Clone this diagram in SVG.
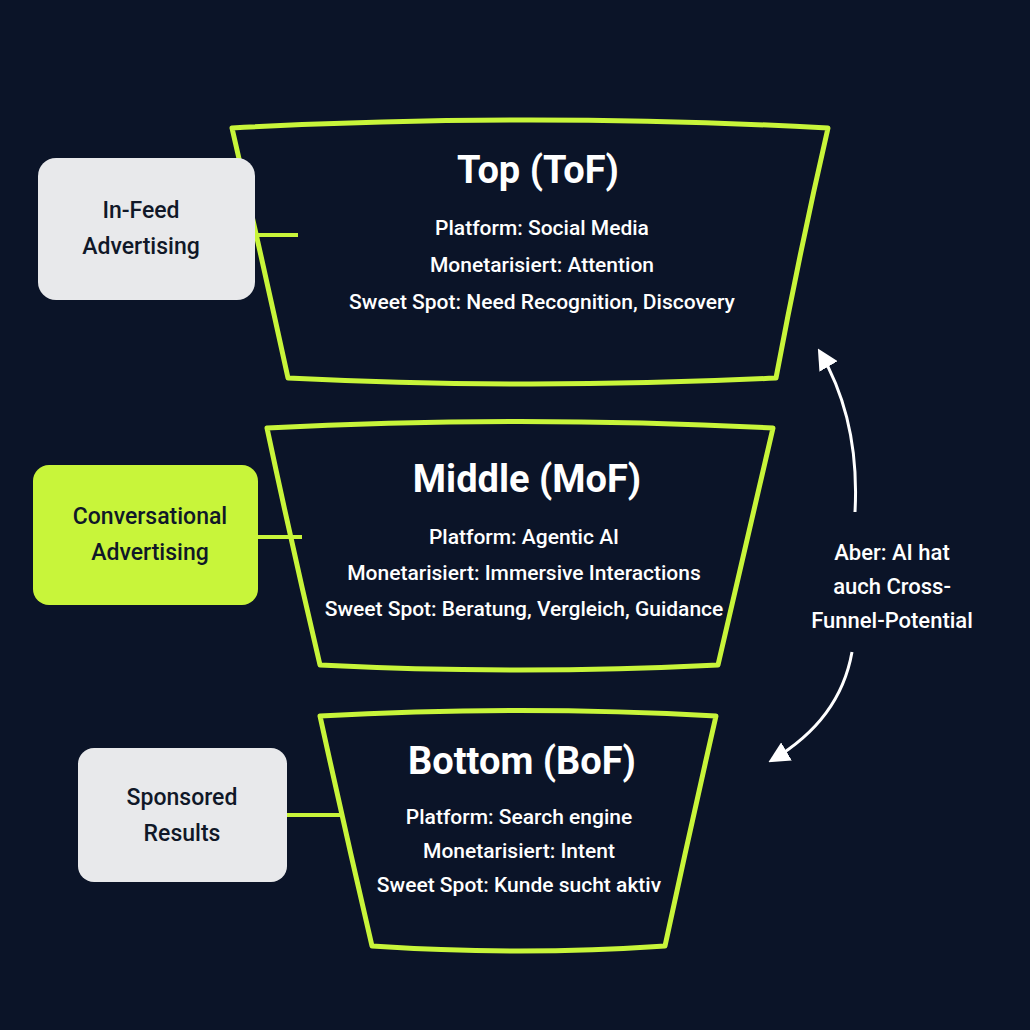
<svg xmlns="http://www.w3.org/2000/svg" width="1030" height="1030" viewBox="0 0 1030 1030">
<defs>
<style>
.f{fill:none;stroke:#c8f53a;stroke-width:5;stroke-linejoin:round}
.c{stroke:#c8f53a;stroke-width:4}
.t{font-family:Roboto,"Liberation Sans",Arial,sans-serif;fill:#fff;text-anchor:middle;font-weight:500}
.h{font-size:38px;font-weight:bold}
.s{font-size:21px}
.b{font-family:Roboto,"Liberation Sans",Arial,sans-serif;fill:#101828;text-anchor:middle;font-size:23px;font-weight:500}
.a{fill:none;stroke:#fff;stroke-width:3}
</style>
<marker id="m" viewBox="0 0 10 10" refX="8" refY="5" markerWidth="7" markerHeight="7" orient="auto"><path d="M0,0L10,5L0,10z" fill="#fff"/></marker>
</defs>
<rect width="1030" height="1030" fill="#0b1428"/>
<g id="connectors">
<line class="c" x1="256" y1="235" x2="298" y2="235"/>
<line class="c" x1="258" y1="537" x2="302" y2="537"/>
<line class="c" x1="287" y1="815" x2="340" y2="815"/>
<path class="a" d="M855,512 Q860,420 820,352" marker-end="url(#m)"/>
<path class="a" d="M852,652 Q840,720 772,760" marker-end="url(#m)"/>
</g>
<g id="top">
<path class="f" d="M232,128 Q530,112 828,128 Q800,250 776,378 Q530,390 288,378 Q260,250 232,128z"/>
<text class="t h" x="538" y="183">Top (ToF)</text>
<text class="t s" x="542" y="235">Platform: Social Media</text>
<text class="t s" x="542" y="272">Monetarisiert: Attention</text>
<text class="t s" x="542" y="309">Sweet Spot: Need Recognition, Discovery</text>
</g>
<g id="middle">
<path class="f" d="M267,428 Q520,415 773,428 Q745,550 718,665 Q520,675 320,665 Q293,550 267,428z"/>
<text class="t h" x="527" y="492">Middle (MoF)</text>
<text class="t s" x="524" y="544">Platform: Agentic AI</text>
<text class="t s" x="524" y="580">Monetarisiert: Immersive Interactions</text>
<text class="t s" x="524" y="616">Sweet Spot: Beratung, Vergleich, Guidance</text>
</g>
<g id="bottom">
<path class="f" d="M320,716 Q520,705 716,716 Q690,830 665,946 Q520,956 372,946 Q345,830 320,716z"/>
<text class="t h" x="522" y="774">Bottom (BoF)</text>
<text class="t s" x="519" y="824">Platform: Search engine</text>
<text class="t s" x="519" y="858">Monetarisiert: Intent</text>
<text class="t s" x="519" y="892">Sweet Spot: Kunde sucht aktiv</text>
</g>
<g id="infeed">
<rect x="38" y="158" width="217" height="142" rx="18" fill="#e8e9eb"/>
<text class="b" x="141" y="218">In-Feed</text>
<text class="b" x="141" y="254">Advertising</text>
</g>
<g id="conversational">
<rect x="33" y="465" width="225" height="140" rx="16" fill="#c8f53a"/>
<text class="b" x="150" y="524">Conversational</text>
<text class="b" x="150" y="560">Advertising</text>
</g>
<g id="sponsored">
<rect x="78" y="748" width="209" height="134" rx="16" fill="#e8e9eb"/>
<text class="b" x="182" y="805">Sponsored</text>
<text class="b" x="182" y="841">Results</text>
</g>
<g id="note">
<text class="t" font-size="22" x="892" y="560">Aber: AI hat</text>
<text class="t" font-size="22" x="892" y="594">auch Cross-</text>
<text class="t" font-size="22" x="892" y="628">Funnel-Potential</text>
</g>
</svg>
